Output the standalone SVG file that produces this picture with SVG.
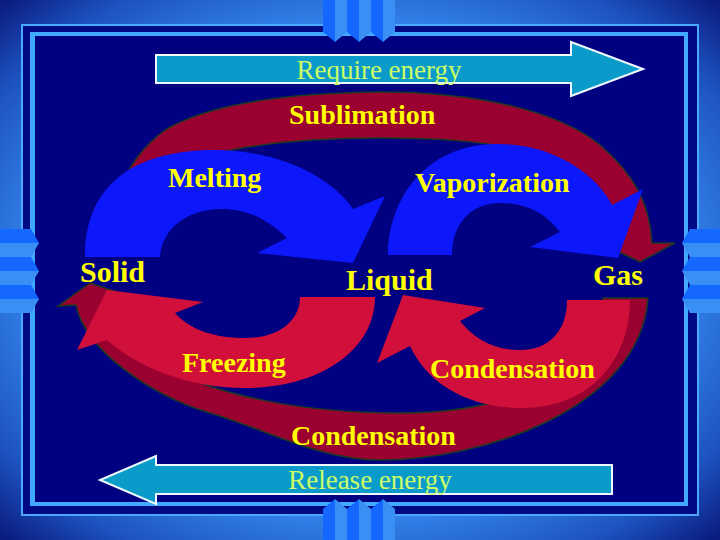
<svg xmlns="http://www.w3.org/2000/svg" width="720" height="540" viewBox="0 0 720 540">
<defs>
<radialGradient id="bg" cx="50%" cy="50%" r="70%">
<stop offset="0" stop-color="#3d94f7"/>
<stop offset="0.62" stop-color="#3589ef"/>
<stop offset="0.85" stop-color="#1d52bf"/>
<stop offset="1" stop-color="#0a1c80"/>
</radialGradient>
<style>
.tabD{fill:#1468ff}
.tabL{fill:#3a8ff4}
.dark{fill:#9a0030;stroke:#1c3a22;stroke-width:1.5}
.blue{fill:#0c17fa}
.bright{fill:#d0103a}
.lbl{font-family:"Liberation Serif","Times New Roman",serif;font-weight:bold;font-size:28px;fill:#ffff00}
.big{font-size:30px}
.energy{fill:#0a9bcb;stroke:#eefaff;stroke-width:2}
.etxt{font-family:"Liberation Serif","Times New Roman",serif;font-size:27px;fill:#ccff66;text-anchor:middle}
</style>
</defs>
<g id="background">
<rect x="0" y="0" width="720" height="540" fill="url(#bg)"/>
<rect x="22" y="25" width="676" height="490" fill="#000a85" stroke="#4aa8ff" stroke-width="2"/>
<rect x="30" y="32" width="658" height="474" fill="#40aaff"/>
<rect x="35" y="36" width="649" height="466" fill="#000080"/>
</g>
<g id="tabs">
<polygon class="tabD" points="323,0 335,0 335,42 323,32"/><polygon class="tabL" points="335,0 347,0 347,32 335,42"/>
<polygon class="tabD" points="347,0 359,0 359,42 347,32"/><polygon class="tabL" points="359,0 371,0 371,32 359,42"/>
<polygon class="tabD" points="371,0 383,0 383,42 371,32"/><polygon class="tabL" points="383,0 395,0 395,32 383,42"/>
<polygon class="tabD" points="323,540 335,540 335,499 323,509"/><polygon class="tabL" points="335,540 347,540 347,509 335,499"/>
<polygon class="tabD" points="347,540 359,540 359,499 347,509"/><polygon class="tabL" points="359,540 371,540 371,509 359,499"/>
<polygon class="tabD" points="371,540 383,540 383,499 371,509"/><polygon class="tabL" points="383,540 395,540 395,509 383,499"/>
<polygon class="tabD" points="0,229 31,229 39,243 0,243"/><polygon class="tabL" points="0,243 39,243 31,257 0,257"/>
<polygon class="tabD" points="0,257 31,257 39,271 0,271"/><polygon class="tabL" points="0,271 39,271 31,285 0,285"/>
<polygon class="tabD" points="0,285 31,285 39,299 0,299"/><polygon class="tabL" points="0,299 39,299 31,313 0,313"/>
<polygon class="tabD" points="720,229 690,229 682,243 720,243"/><polygon class="tabL" points="720,243 682,243 690,257 720,257"/>
<polygon class="tabD" points="720,257 690,257 682,271 720,271"/><polygon class="tabL" points="720,271 682,271 690,285 720,285"/>
<polygon class="tabD" points="720,285 690,285 682,299 720,299"/><polygon class="tabL" points="720,299 682,299 690,313 720,313"/>
</g>
<g id="connectors">
<path id="sublimation" class="dark" d="M 112,250 C 110,200 125,160 165,130 C 210,103 290,93 380,92 C 480,92 560,112 600,145 C 635,175 650,205 652,243 L 675,243 L 640,262 L 600,243 L 612,243 C 610,200 590,170 540,155 C 490,140 430,138 380,138 C 300,138 230,145 180,165 C 145,185 132,220 132,250 Z"/>
<path id="deposition" class="dark" d="M 648,298 C 640,410 480,460 380,460 C 320,460 270,431 210,413 C 150,395 85,350 76,305 L 58,306 L 90,283 L 135,298 L 118,302 C 125,330 140,352 170,370 C 220,395 300,413 400,413 C 520,413 595,370 603,298 Z"/>
<path id="melting" class="blue" d="M 85,257 C 85,180 140,150 215,150 C 275,150 330,175 353,209 L 385,196 L 353,263 L 257,253 L 287,238 C 265,217 245,209 222,209 C 188,209 162,228 160,257 Z"/>
<path id="vaporization" class="blue" d="M 388,255 C 388,200 425,145 495,144 C 550,143 595,172 612,205 L 643,189 L 618,258 L 530,247 L 560,232 C 545,212 525,203 500,203 C 470,203 452,225 452,255 Z"/>
<path id="freezing" class="bright" d="M 375,297 C 375,350 320,388 245,388 C 185,388 135,365 107,340 L 77,350 L 107,290 L 203,302 L 175,313 C 190,330 215,338 245,338 C 280,338 300,320 300,297 Z"/>
<path id="condensation" class="bright" d="M 630,300 C 630,360 590,408 522,408 C 470,408 428,385 410,346 L 377,363 L 403,295 L 485,308 L 460,321 C 475,340 495,350 520,350 C 550,350 567,330 567,300 Z"/>
<polygon id="require-arrow" class="energy" points="156,55 571,55 571,42 643,69 571,96 571,83 156,83"/>
<polygon id="release-arrow" class="energy" points="612,465 612,494 156,494 156,504 100,480 156,456 156,465"/>
<text class="etxt" x="379" y="79">Require energy</text>
<text class="etxt" x="370" y="489">Release energy</text>
<text class="lbl" x="289" y="124">Sublimation</text>
<text class="lbl" x="168" y="187">Melting</text>
<text class="lbl" x="415" y="192">Vaporization</text>
<text class="lbl" x="182" y="372">Freezing</text>
<text class="lbl" x="430" y="378">Condensation</text>
<text class="lbl" x="291" y="445">Condensation</text>
</g>
<g id="solid"><text class="lbl big" x="80" y="282">Solid</text></g>
<g id="liquid"><text class="lbl big" x="346" y="290">Liquid</text></g>
<g id="gas"><text class="lbl big" x="593" y="285">Gas</text></g>
</svg>
